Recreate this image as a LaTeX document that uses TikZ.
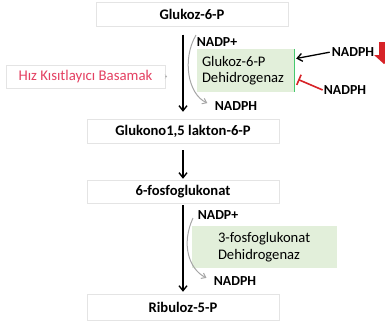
\documentclass[tikz,border=0pt]{standalone}
\usepackage{fontspec}
\setmainfont{Carlito}
\usetikzlibrary{arrows.meta, positioning}
\definecolor{enzgreen}{RGB}{226,239,218}
\definecolor{edgegreen}{RGB}{70,200,110}
\definecolor{hizred}{RGB}{228,64,98}
\definecolor{boxline}{RGB}{228,228,228}
\definecolor{downred}{RGB}{215,35,40}

\begin{document}
\begin{tikzpicture}[x=1pt, y=-1pt, every node/.style={font=\fontsize{14.8}{17}\selectfont}]
    \tikzset{
      metabox/.style={rectangle, draw=boxline, fill=white, minimum width=192pt,
                      minimum height=24pt, font=\fontsize{14.6}{17}\selectfont\bfseries},
      enzbox/.style={rectangle, fill=enzgreen, align=left, inner ysep=0pt,
                     font=\fontsize{14.6}{16.5}\selectfont},
      cofac/.style={inner sep=1pt, font=\fontsize{13.8}{15}\selectfont\bfseries},
      mainarrow/.style={-{Straight Barb[length=5pt,width=8pt]}, line width=1.4pt},
      sidearrow/.style={-{Straight Barb[length=4pt,width=6pt]}, gray!70, line width=1pt}}
    \useasboundingbox (0,0) rectangle (385,322);
    % metabolites
    \node[metabox] (g6p) at (192,14.5) {Glukoz-6-P};
    \node[metabox] (lak) at (183,131)  {Glukono1,5 lakton-6-P};
    \node[metabox, minimum height=23pt] (fosfo) at (183,191.5) {6-fosfoglukonat};
    \node[metabox, minimum height=26pt] (rib) at (183,307) {Ribuloz-5-P};
    % enzymes
    \node[enzbox, minimum width=97pt, minimum height=43pt, text width=87pt, inner xsep=5pt]
      (enz1) at (245.5,70.5) {Glukoz-6-P\\Dehidrogenaz};
    \node[enzbox, minimum width=145pt, minimum height=42pt, text width=93pt, inner xsep=26pt]
      (enz2) at (264.5,247) {3-fosfoglukonat\\Dehidrogenaz};
    \draw[edgegreen, line width=1pt] (enz1.north east) -- (enz1.south east);
    % rate limiting step
    \node[rectangle, draw=boxline, fill=white, text=hizred, minimum width=159pt,
          minimum height=23pt] (hiz) at (85.5,76.5) {Hız Kısıtlayıcı Basamak};
    \draw[-{Straight Barb[length=2pt,width=4pt]}, gray!60] (hiz.east) -- ++(2,0);
    % cofactors
    \node[cofac] (nadp1)  at (217,42)  {NADP+};
    \node[cofac] (nadph1) at (236,106) {NADPH};
    \node[cofac] (nadp2)  at (218,215) {NADP+};
    \node[cofac] (nadph2) at (235,281) {NADPH};
    \node[cofac] (nadphA) at (353,52)  {NADPH};
    \node[cofac] (nadphB) at (345,90)  {NADPH};
    \coordinate (c1) at (196,35);
    \coordinate (c2) at (193,218);
    % main path
    \draw[mainarrow, shorten <=8pt, shorten >=7pt] (lak.north |- g6p.south) -- (lak.north);
    \draw[mainarrow, shorten <=7pt, shorten >=1pt] (lak.south) -- (fosfo.north);
    \draw[mainarrow, shorten <=2pt, shorten >=2pt] (fosfo.south) -- (rib.north);
    % side reactions
    \draw[sidearrow, shorten >=7pt] (c1) .. controls +(-14,24) and +(-26,-12) .. (nadph1.west);
    \draw[sidearrow, shorten >=7pt] (c2) .. controls +(-12,26) and +(-24,-12) .. (nadph2.west);
    % regulation
    \draw[-{Straight Barb[length=5pt,width=8pt]}, line width=1.3pt, shorten <=1pt]
      (nadphA.west) -- ([xshift=2pt,yshift=12pt]enz1.east);
    \draw[-{Bar[width=11pt]}, downred, line width=1.6pt]
      (nadphB.west) -- ([xshift=4pt,yshift=-9pt]enz1.east);
    \fill[downred] (379,42) rectangle (389,55);
    \fill[downred] (374,55) -- (394,55) -- (384,64) -- cycle;
\end{tikzpicture}
\end{document}
